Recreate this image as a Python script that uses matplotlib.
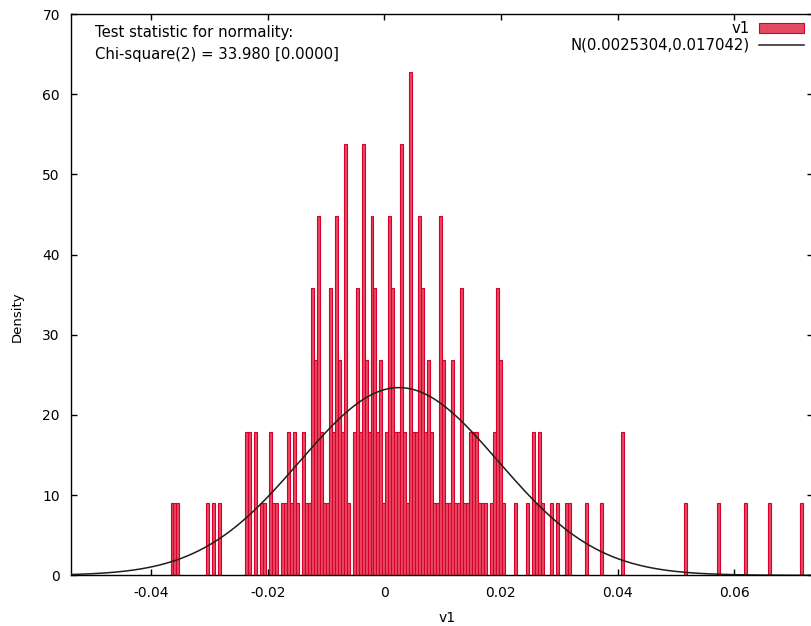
import matplotlib
matplotlib.use("Agg")
import matplotlib.pyplot as plt
from matplotlib.patches import Patch
from matplotlib.lines import Line2D
import numpy as np

# histogram of v1: equal-width bins, counts per bin from the first bin upward
BIN_START = -0.036415  # centre of the first bin
BIN_WIDTH = 0.000512
COUNTS = [
    1, 1, 1, 0, 0, 0, 0, 0, 0, 0,   # 0
    0, 0, 1, 0, 1, 0, 1, 0, 0, 0,   # 10
    0, 0, 0, 0, 0, 2, 2, 0, 2, 0,   # 20
    1, 1, 0, 2, 1, 1, 0, 1, 1, 2,   # 30
    1, 2, 1, 0, 2, 1, 1, 4, 3, 5,   # 40
    2, 1, 1, 4, 2, 5, 3, 2, 6, 1,   # 50
    0, 2, 4, 2, 6, 3, 2, 5, 4, 2,   # 60
    3, 1, 2, 5, 4, 2, 2, 6, 2, 1,   # 70
    7, 2, 2, 5, 4, 2, 3, 2, 1, 1,   # 80
    5, 3, 1, 1, 3, 1, 1, 4, 1, 1,   # 90
    2, 2, 2, 1, 1, 1, 0, 1, 2, 4,   # 100
    3, 1, 0, 0, 0, 1, 0, 0, 0, 1,   # 110
    0, 2, 1, 2, 1, 0, 0, 1, 0, 1,   # 120
    0, 0, 1, 1, 0, 0, 0, 0, 0, 1,   # 130
    0, 0, 0, 0, 1, 0, 0, 0, 0, 0,   # 140
    0, 2, 0, 0, 0, 0, 0, 0, 0, 0,   # 150
    0, 0, 0, 0, 0, 0, 0, 0, 0, 0,   # 160
    0, 0, 1, 0, 0, 0, 0, 0, 0, 0,   # 170
    0, 0, 0, 1, 0, 0, 0, 0, 0, 0,   # 180
    0, 0, 1, 0, 0, 0, 0, 0, 0, 0,   # 190
    1, 0, 0, 0, 0, 0, 0, 0, 0, 0,   # 200
    0, 1,                           # 210
]

# fitted normal and the normality test shown in the corner
MU = 0.0025304
SIGMA = 0.017042
CHI2 = 33.980
PVALUE = 0.0

BAR_FACE = "#e44b61"
BAR_EDGE = "#d8002b"
CURVE = "#1e1e1e"

plt.rcParams["font.family"] = ["DejaVu Sans"]
plt.rcParams["font.size"] = 10

counts = np.array(COUNTS, dtype=float)
centers = BIN_START + BIN_WIDTH * np.arange(len(counts))
density = counts / (counts.sum() * BIN_WIDTH)
keep = counts > 0

W, H = 811, 626
fig = plt.figure(figsize=(W / 100, H / 100), dpi=100)
ax = fig.add_axes([71 / W, (H - 575.3) / H, (813 - 71) / W, (575.3 - 14) / H])

ax.bar(centers[keep], density[keep], width=BIN_WIDTH, color=BAR_FACE,
       edgecolor=BAR_EDGE, linewidth=0.8, zorder=2)

xs = np.linspace(-0.06, 0.08, 600)
pdf = np.exp(-0.5 * ((xs - MU) / SIGMA) ** 2) / (SIGMA * np.sqrt(2 * np.pi))
ax.plot(xs, pdf, color=CURVE, linewidth=1.1, zorder=3)

ax.set_xlim(-0.05374, 0.07353)
ax.set_ylim(0, 70)
ax.set_xticks([-0.04, -0.02, 0, 0.02, 0.04, 0.06])
ax.set_xticklabels(["-0.04", "-0.02", "0", "0.02", "0.04", "0.06"])
ax.set_yticks(range(0, 71, 10))
ax.tick_params(direction="in", top=True, right=True, length=4, width=1,
               pad=8)
for sp in ax.spines.values():
    sp.set_linewidth(1.0)

ax.set_xlabel("v1", va="top")
ax.xaxis.set_label_coords((447 - 71) / 742, -(611 - 575.3) / 561.3)
ax.set_ylabel("Density", fontsize=9.5)
ax.yaxis.set_label_coords(-(71 - 24) / 742, 0.46)

ax.text(0.0323, 0.9596, "Test statistic for normality:",
        transform=ax.transAxes, ha="left", va="baseline", fontsize=10.7)
ax.text(0.0323, 0.9193, f"Chi-square(2) = {CHI2:.3f} [{PVALUE:.4f}]",
        transform=ax.transAxes, ha="left", va="baseline", fontsize=10.7)

handles = [
    Patch(facecolor=BAR_FACE, edgecolor=BAR_EDGE, linewidth=0.8),
    Line2D([], [], color=CURVE, linewidth=1.1),
]
labels = ["v1", f"N({MU:.7f},{SIGMA:.6f})"]
ax.legend(handles, labels, loc="upper right",
          bbox_to_anchor=((804 - 71) / 742, (575.3 - 21) / 561.3),
          frameon=False, markerfirst=False, alignment="right",
          handlelength=3.0, handletextpad=0.65, borderaxespad=0,
          borderpad=0, labelspacing=0.12, fontsize=10.7)

fig.savefig("out.png", dpi=100)
